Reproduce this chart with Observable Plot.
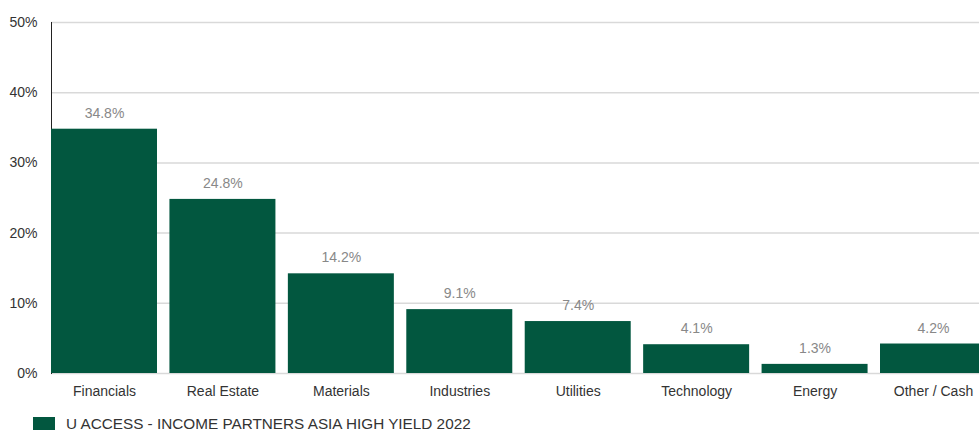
<!DOCTYPE html>
<html>
<head>
<meta charset="utf-8">
<script src="https://cdn.jsdelivr.net/npm/d3@7"></script>
<script src="https://cdn.jsdelivr.net/npm/@observablehq/plot@0.6"></script>
<style>
  html, body { margin: 0; padding: 0; background: #fff; overflow: hidden; }
  #wrap { position: relative; width: 979px; height: 430px; font-family: "Liberation Sans", Arial, sans-serif; }
  #legend { position: absolute; left: 33px; top: 417px; display: flex; align-items: center; font-size: 15.3px; line-height: 12px; color: #333; }
  #legend .sw { width: 22px; height: 13px; background: #02573f; margin-right: 11px; }
</style>
</head>
<body>
<div id="wrap">
  <div id="chart"></div>
  <div id="legend"><span class="sw"></span><span id="legtext"></span></div>
</div>
<script>
const categories = ["Financials", "Real Estate", "Materials", "Industries", "Utilities", "Technology", "Energy", "Other / Cash"];
const values = [34.8, 24.8, 14.2, 9.1, 7.4, 4.1, 1.3, 4.2];
const yTicks = [0, 10, 20, 30, 40, 50];
const seriesName = "U ACCESS - INCOME PARTNERS ASIA HIGH YIELD 2022";

const data = categories.map((c, i) => ({cat: c, val: values[i]}));

const chart = Plot.plot({
  width: 979,
  height: 405,
  marginTop: 22,
  marginBottom: 32,
  marginLeft: 51,
  marginRight: 0,
  style: {fontFamily: "'Liberation Sans', Arial, sans-serif", fontSize: "14px", color: "#333", background: "#fff"},
  x: {domain: categories, range: [51, 986], paddingInner: 0.105, paddingOuter: 0, align: 0, round: false},
  y: {domain: [0, 50], range: [373, 22]},
  marks: [
    Plot.ruleY(yTicks, {stroke: "#d9d9d9", strokeWidth: 1.5}),
    Plot.frame({anchor: "left", stroke: "#222"}),
    Plot.barY(data, {x: "cat", y: "val", fill: "#02573f"}),
    Plot.text(data, {x: "cat", y: "val", text: d => d.val.toFixed(1) + "%", dy: -16, fill: "#888", fontSize: 14}),
    Plot.axisY({ticks: yTicks, tickSize: 0, tickPadding: 14, tickFormat: d => d + "%", label: null, fill: "#333"}),
    Plot.axisX({tickSize: 0, tickPadding: 13, label: null, fill: "#333"})
  ]
});
document.getElementById("chart").appendChild(chart);
document.getElementById("legtext").textContent = seriesName;
</script>
</body>
</html>
